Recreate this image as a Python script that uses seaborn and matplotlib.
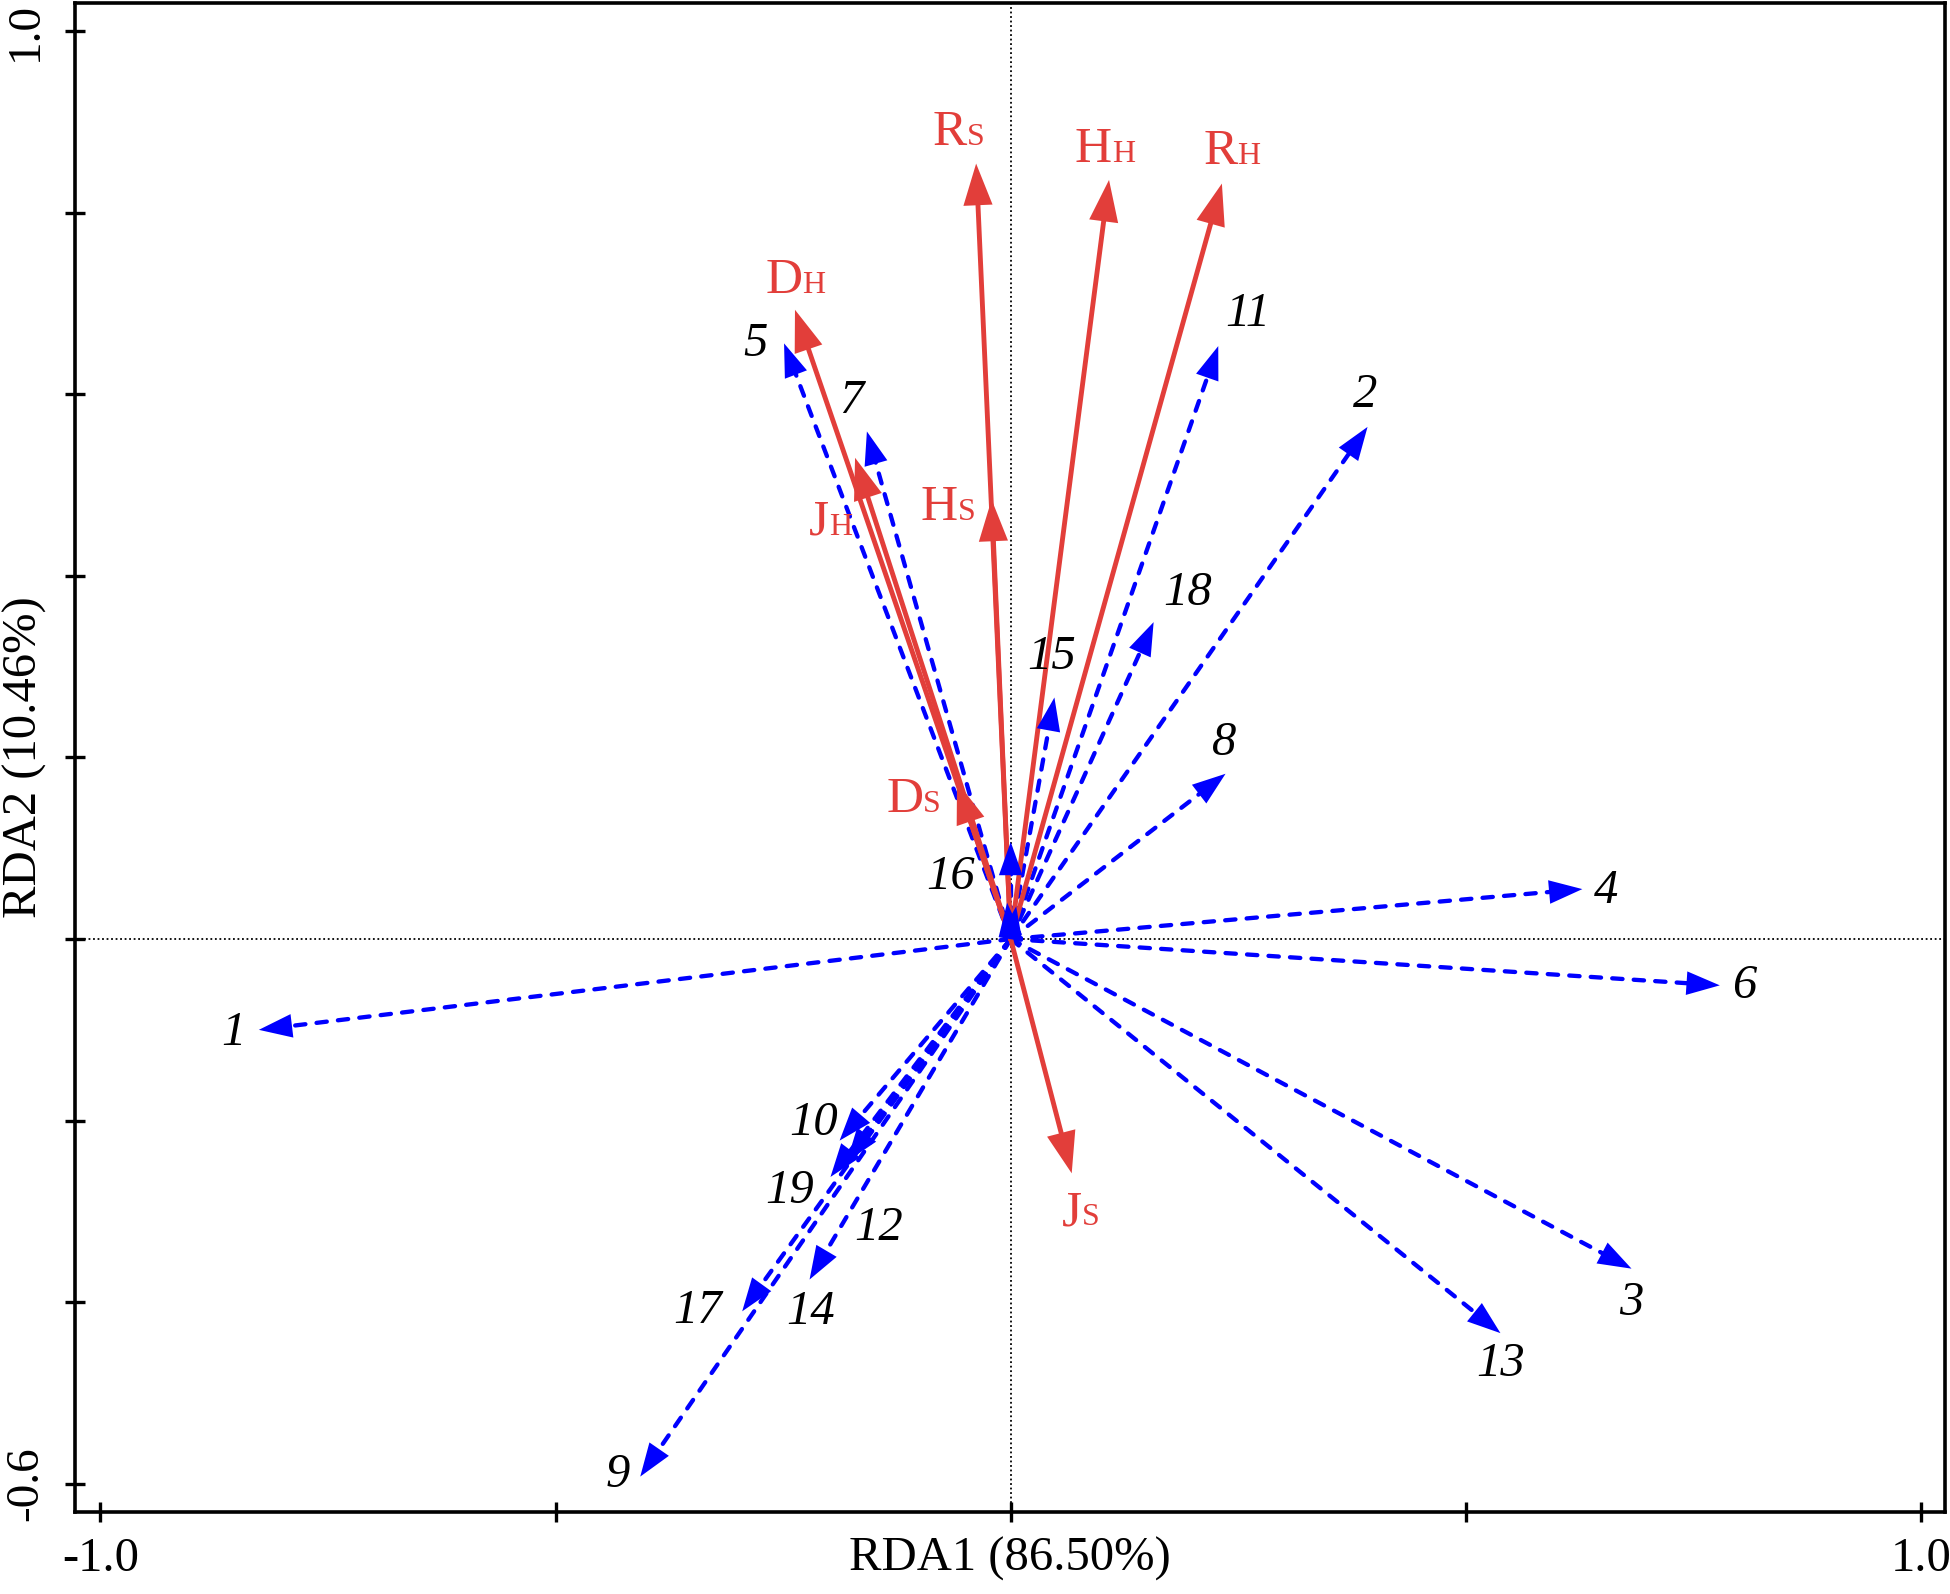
import numpy as np
import pandas as pd
import seaborn as sns
import matplotlib.pyplot as plt

############## Data: species loadings (blue, dashed) ##############
sp_names = ['1', '2', '3', '4', '5', '6', '7', '8', '9', '10',
            '11', '12', '13', '14', '15', '16', '17', '18', '19', '', '']
sp_x = [-0.826, 0.392, 0.682, 0.628, -0.249, 0.779, -0.158, 0.236, -0.407, -0.188,
        0.228, -0.180, 0.538, -0.221, 0.048, 0.000, -0.295, 0.157, -0.198, -0.004, 0.006]
sp_y = [-0.100, 0.564, -0.363, 0.055, 0.656, -0.051, 0.559, 0.182, -0.592, -0.222,
        0.653, -0.245, -0.434, -0.375, 0.266, 0.107, -0.410, 0.349, -0.262, 0.040, 0.036]
sp_lab_x = [-0.854, 0.389, 0.682, 0.654, -0.280, 0.806, -0.175, 0.235, -0.432, -0.216,
            0.261, -0.145, 0.538, -0.220, 0.045, -0.066, -0.344, 0.194, -0.243, 0.0, 0.0]
sp_lab_y = [-0.103, 0.599, -0.401, 0.053, 0.655, -0.052, 0.593, 0.216, -0.590, -0.203,
            0.688, -0.318, -0.468, -0.411, 0.311, 0.068, -0.410, 0.381, -0.277, 0.0, 0.0]

############## Data: environmental vectors (red, solid) ###########
env_main = ['R', 'H', 'R', 'D', 'J', 'H', 'D', 'J']
env_sub = ['S', 'H', 'H', 'H', 'H', 'S', 'S', 'S']
env_x = [-0.038, 0.108, 0.232, -0.237, -0.171, -0.021, -0.059, 0.067]
env_y = [0.854, 0.836, 0.832, 0.693, 0.530, 0.484, 0.173, -0.258]
# label anchor: baseline, junction between main letter and small letter
env_lab_x = [-0.048, 0.111, 0.249, -0.229, -0.200, -0.058, -0.096, 0.078]
env_lab_y = [0.874, 0.856, 0.853, 0.711, 0.445, 0.461, 0.140, -0.315]

RED = '#E23E3A'
BLUE = '#0000FF'

############## Style ##############################################
sns.set_theme(style='white')
plt.rcParams['font.family'] = ['Liberation Serif', 'DejaVu Serif']

fig = plt.figure(figsize=(19.5, 15.94), dpi=100)
ax = fig.add_axes([0.03826, 0.05144, 0.95918, 0.94699])


def shaft_frame(xs, ys, back):
    # origin -> a bit short of the tip, so the head keeps a sharp point
    rows = []
    for i, (x, y) in enumerate(zip(xs, ys)):
        r = np.hypot(x, y)
        f = max(r - back, 0.0) / r
        rows.append({'id': i, 'x': 0.0, 'y': 0.0})
        rows.append({'id': i, 'x': x * f, 'y': y * f})
    return pd.DataFrame(rows)


sp_df = shaft_frame(sp_x, sp_y, 0.015)
env_df = shaft_frame(env_x, env_y, 0.02)

# zero lines
ax.axhline(0, color='black', lw=1.3, ls=(0, (1, 1.5)), zorder=1)
ax.axvline(0, color='black', lw=1.3, ls=(0, (1, 1.5)), zorder=1)

sns.lineplot(data=sp_df, x='x', y='y', units='id', estimator=None, sort=False,
             color=BLUE, lw=3.1, linestyle=(0, (2.4, 2.6)),
             dash_capstyle='round', ax=ax, zorder=2)
sns.lineplot(data=env_df, x='x', y='y', units='id', estimator=None, sort=False,
             color=RED, lw=3.5, ax=ax, zorder=3)

# arrow heads
for x, y in zip(env_x, env_y):
    ax.annotate('', xy=(x, y), xytext=(0, 0),
                arrowprops=dict(arrowstyle='-|>,head_length=30,head_width=10.5',
                                mutation_scale=1, fc=RED, ec=RED, lw=0,
                                shrinkA=0, shrinkB=0), zorder=4)
for x, y in zip(sp_x, sp_y):
    ax.annotate('', xy=(x, y), xytext=(0, 0),
                arrowprops=dict(arrowstyle='-|>,head_length=24,head_width=8.5',
                                mutation_scale=1, fc=BLUE, ec=BLUE, lw=0,
                                shrinkA=0, shrinkB=0), zorder=5)

# labels
for n, lx, ly in zip(sp_names, sp_lab_x, sp_lab_y):
    if n:
        ax.text(lx, ly, n, fontsize=35, style='italic', color='black',
                ha='center', va='center', zorder=6)
for m, s, lx, ly in zip(env_main, env_sub, env_lab_x, env_lab_y):
    ax.text(lx, ly, m, fontsize=37, color=RED, ha='right', va='baseline', zorder=6)
    ax.text(lx, ly, s, fontsize=23, color=RED, ha='left', va='baseline', zorder=6)

############## Axes ###############################################
ax.set_xlim(-1.0284, 1.0264)
ax.set_ylim(-0.631, 1.0314)
ax.set_xticks([-1.0, -0.5, 0.0, 0.5, 1.0])
ax.set_xticklabels(['-1.0', '', '', '', '1.0'], fontsize=35)
yt = [-0.6, -0.4, -0.2, 0.0, 0.2, 0.4, 0.6, 0.8, 1.0]
ax.set_yticks(yt)
ax.set_yticklabels(['-0.6', '', '', '', '', '', '', '', '1.0'],
                   fontsize=34, rotation=90, va='center')
ax.tick_params(axis='x', bottom=True, direction='inout', length=13.7, width=2.4,
               color='black', pad=11, labelcolor='black')
ax.tick_params(axis='y', left=True, direction='inout', length=13.7, width=2.4,
               color='black', pad=13, labelcolor='black')
for sp in ax.spines.values():
    sp.set_visible(True)
    sp.set_color('black')
    sp.set_linewidth(2.6)

ax.set_xlabel('RDA1 (86.50%)', fontsize=35, color='black')
ax.set_ylabel('RDA2 (10.46%)', fontsize=35, color='black')
ax.xaxis.set_label_coords(0.5, -0.0166)
ax.yaxis.set_label_coords(-0.0148, 0.5)
ax.grid(False)

fig.savefig('out.png', dpi=100, facecolor='white')
